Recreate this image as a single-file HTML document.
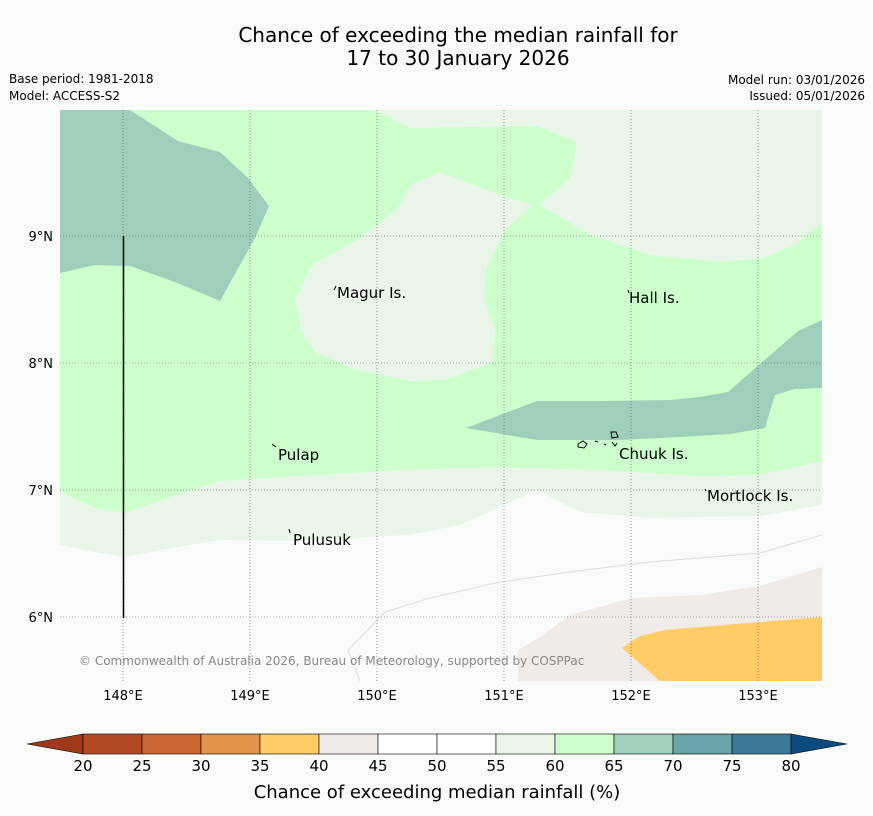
<!DOCTYPE html>
<html><head><meta charset="utf-8"><style>
body{margin:0;background:#f9fbf9;font-family:"DejaVu Sans","Liberation Sans",sans-serif;}
svg{display:block}
</style></head><body>
<svg id="fig" width="873" height="816" viewBox="0 0 873 816">
<rect width="873" height="816" fill="#f9fbf9"/>
<text x="458" y="42" font-size="20" text-anchor="middle" fill="#000">Chance of exceeding the median rainfall for</text>
<text x="458" y="65" font-size="20" text-anchor="middle" fill="#000">17 to 30 January 2026</text>
<text x="9" y="83" font-size="12">Base period: 1981-2018</text>
<text x="9" y="100" font-size="12">Model: ACCESS-S2</text>
<text x="865" y="84" font-size="12" text-anchor="end">Model run: 03/01/2026</text>
<text x="865" y="100" font-size="12" text-anchor="end">Issued: 05/01/2026</text>
<defs><clipPath id="mapclip"><rect x="60" y="110" width="762" height="571"/></clipPath></defs>
<g clip-path="url(#mapclip)">
<rect x="60" y="110" width="762" height="571" fill="#f9fbf9"/>
<path fill="#eaf5ea" d="M60,110 L822,110 L822,505 L760,516 L650,518 L580,512 L537,490 L460,525 L410,535 L350,538 L290,541 L220,540 L160,550 L125,557 L95,552 L60,545 Z"/>
<path fill="#ccffcc" d="M60,110 L375,110 L410,128 L470,127 L537,126 L577,142 L570,178 L540,205 L590,235 L650,255 L720,262 L760,259 L795,245 L822,222 L822,461 L760,475 L700,476 L600,470 L500,467 L400,470 L300,476 L220,481 L170,497 L125,513 L95,508 L60,492 Z"/>
<path fill="#eaf5ea" d="M295,300 L312,265 L360,238 L398,208 L410,185 L440,172 L500,195 L532,205 L505,230 L486,268 L485,300 L495,330 L492,362 L445,380 L410,381 L350,368 L315,352 L302,332 Z"/>
<path fill="#9ecfba" d="M60,110 L130,110 L178,141 L220,152 L248,178 L269,206 L255,238 L220,301 L175,282 L130,266 L95,265 L60,273 Z"/>
<path fill="#9ecfba" d="M466,428 L537,401 L600,401 L670,400 L700,397 L728,392 L760,364 L798,331 L822,320 L822,388 L795,389 L775,395 L765,428 L730,434 L680,437 L620,440 L537,440 Z"/>
<path fill="#f0ebe6" d="M518,650 L540,637 L570,615 L632,598 L700,595 L760,586 L822,567 L822,681 L518,681 Z"/>
<path fill="#ffcc66" d="M622,648 L640,636 L665,630 L760,622 L822,617 L822,681 L660,681 Z"/>
<path fill="none" stroke="#ddd" stroke-width="1" d="M348,650 L385,612 L430,598 L500,582 L570,572 L650,562 L760,553 L822,535 M348,650 L360,681"/>
<g stroke="#555" stroke-width="0.6" stroke-dasharray="1,2">
<line x1="123" y1="110" x2="123" y2="681"/><line x1="250" y1="110" x2="250" y2="681"/><line x1="377" y1="110" x2="377" y2="681"/><line x1="504" y1="110" x2="504" y2="681"/><line x1="631" y1="110" x2="631" y2="681"/><line x1="758" y1="110" x2="758" y2="681"/>
<line x1="60" y1="236" x2="822" y2="236"/><line x1="60" y1="363" x2="822" y2="363"/><line x1="60" y1="490" x2="822" y2="490"/><line x1="60" y1="617" x2="822" y2="617"/>
</g>
<line x1="123.5" y1="236" x2="123.5" y2="618" stroke="#000" stroke-width="1.5"/>
<g stroke="#000" fill="none" stroke-width="1">
<path d="M578,444 l5,-3 l4,3 l-3,4 l-6,-1 Z M595,441 l3,1 M604,444 l2,1 M611,432 l5,0 l2,5 l-6,1 Z M612,442 l3,4 l2,-3 M334,290 l2,-4 M628,290 l1,3 M272,444 l4,3 M289,529 l1,4 M705,489 l1,2"/>
</g>
<text x="337" y="298" font-size="15">Magur Is.</text>
<text x="629" y="303" font-size="15">Hall Is.</text>
<text x="278" y="460" font-size="15">Pulap</text>
<text x="619" y="459" font-size="15">Chuuk Is.</text>
<text x="707" y="501" font-size="15">Mortlock Is.</text>
<text x="293" y="545" font-size="15">Pulusuk</text>
<text x="79" y="665" font-size="12" fill="#888">© Commonwealth of Australia 2026, Bureau of Meteorology, supported by COSPPac</text>
</g>
<g font-size="13">
<text x="123" y="700" text-anchor="middle">148°E</text><text x="250" y="700" text-anchor="middle">149°E</text><text x="377" y="700" text-anchor="middle">150°E</text><text x="504" y="700" text-anchor="middle">151°E</text><text x="631" y="700" text-anchor="middle">152°E</text><text x="758" y="700" text-anchor="middle">153°E</text>
<text x="53" y="241" text-anchor="end">9°N</text><text x="53" y="368" text-anchor="end">8°N</text><text x="53" y="495" text-anchor="end">7°N</text><text x="53" y="622" text-anchor="end">6°N</text>
</g>
<g id="cbar"></g>
<text x="437" y="798" font-size="18" text-anchor="middle">Chance of exceeding median rainfall (%)</text>
</svg>
<script>
const levels=[20,25,30,35,40,45,50,55,60,65,70,75,80];
const colors=["#b34a23","#cc6633","#e0944a","#ffcc66","#f0ebe6","#ffffff","#ffffff","#eaf5ea","#ccffcc","#9ecfba","#6aa3a8","#3d7896"];
const lowColor="#a0391a", highColor="#0d4a80";
const NS="http://www.w3.org/2000/svg";
const g=document.getElementById('cbar');
const x0=83,x1=791,y0=734,y1=754;
const sx=v=>x0+(v-20)/(80-20)*(x1-x0);
function mk(t,a){const e=document.createElementNS(NS,t);for(const k in a)e.setAttribute(k,a[k]);g.appendChild(e);return e;}
const lo=mk('polygon',{points:`${x0},${y0} 27,744 ${x0},${y1}`,fill:lowColor,stroke:'#000','stroke-width':0.6});


const hi=mk('polygon',{points:`${x1},${y0} 847,744 ${x1},${y1}`,fill:highColor,stroke:'#000','stroke-width':0.6});


for(let i=0;i<colors.length;i++){
 const r=mk('rect',{x:sx(levels[i]),y:y0,width:sx(levels[i+1])-sx(levels[i]),height:y1-y0,fill:colors[i],stroke:'#000','stroke-width':0.6});
 
 
}
levels.forEach(v=>{
 const t=mk('text',{x:sx(v),y:771,'font-size':15,'text-anchor':'middle'});t.textContent=v;
 
 
});
</script>
</body></html>
